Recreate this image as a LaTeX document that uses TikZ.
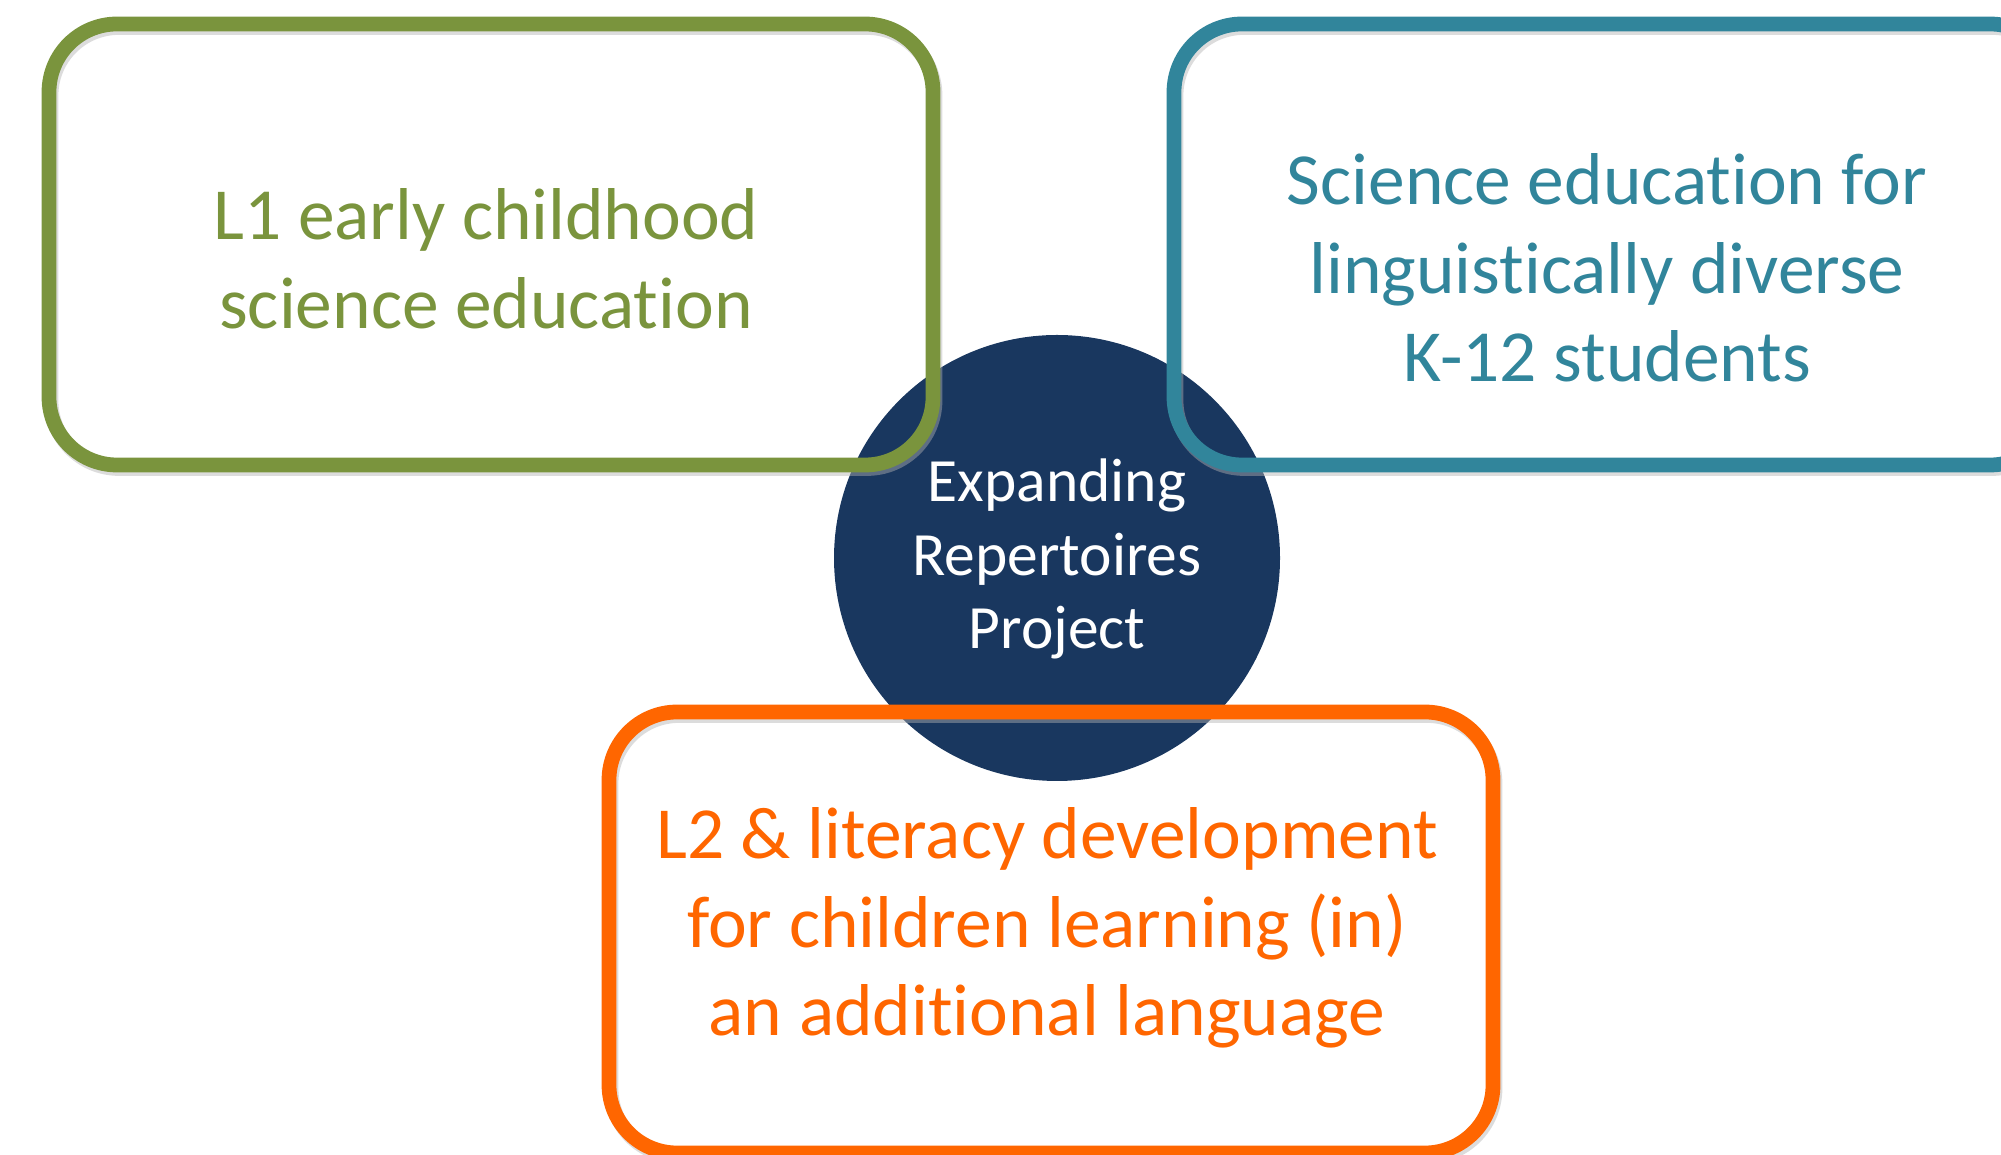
\documentclass[tikz,border=0pt]{standalone}
\usepackage{fontspec}
\setmainfont{Carlito}[Ligatures={NoCommon,NoContextual}]
\definecolor{olivegreen}{RGB}{122,148,61}
\definecolor{tealblue}{RGB}{49,133,155}
\definecolor{hubnavy}{RGB}{25,55,95}
\definecolor{brightorange}{RGB}{255,102,0}
\begin{document}
\begin{tikzpicture}[scale=1]
    \tikzstyle{every node}=[align=center,inner sep=0pt];
    \tikzstyle{topicbox}=[draw,shape=rectangle,rounded corners=6.8mm,minimum width=88.4mm,minimum height=44.1mm,line width=4.2pt];
    \tikzstyle{boxshadow}=[topicbox,draw=black!30,opacity=0.45];
    \tikzstyle{hub}=[shape=circle,fill=hubnavy,minimum size=44.6mm];
    \tikzstyle{boxtext}=[font=\fontsize{20.9pt}{25.2pt}\selectfont];
    \tikzstyle{hubtext}=[font=\fontsize{17.5pt}{20.8pt}\selectfont,text=white];
    \useasboundingbox (0, 0) rectangle (20.01, 11.55);

    % centre circle
    \node at (10.57, 5.97) (hub) [hub] {};

    % shadows
    \node at (4.93, 9.07)   (l1shadow) [boxshadow] {};
    \node at (16.18, 9.07)  (k12shadow) [boxshadow] {};
    \node at (10.53, 2.19)  (l2shadow) [boxshadow] {};

    % boxes
    \node at (4.91, 9.105)  (l1box) [topicbox,draw=olivegreen] {};
    \node at (16.16, 9.105) (k12box) [topicbox,draw=tealblue] {};
    \node at (10.51, 2.225) (l2box) [topicbox,draw=brightorange] {};

    % texts
    \node at (4.86, 8.96)   (l1text) [boxtext,text=olivegreen] {L1 early childhood\\science education};
    \node at (16.07, 8.87)  (k12text) [boxtext,text=tealblue] {Science education for\\linguistically diverse\\K-12 students};
    \node at (10.47, 2.27)  (l2text) [boxtext,text=brightorange] {L2 \& literacy development\\for children learning (in)\\an additional language};
    \node at (10.57, 5.96)  (hubtext) [hubtext] {Expanding\\Repertoires\\Project};
\end{tikzpicture}
\end{document}
